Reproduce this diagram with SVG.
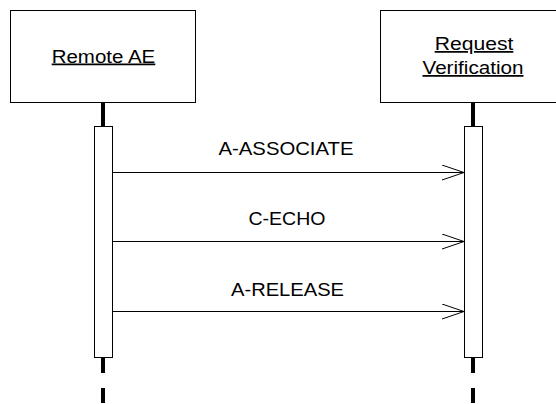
<svg xmlns="http://www.w3.org/2000/svg" width="556" height="404" viewBox="0 0 556 404">
<style>
.box{fill:#fff;stroke:#000;stroke-width:1}
.bar{fill:#fff;stroke:#000;stroke-width:1}
.life{stroke:#000;stroke-width:4;fill:none}
.dash{stroke:#000;stroke-width:4;fill:none;stroke-dasharray:15 15}
.msg{stroke:#000;stroke-width:1;fill:none}
.lbl{font-family:"Liberation Sans",Arial,sans-serif;font-size:17.5px;fill:#000;text-anchor:middle}
.u{text-decoration:underline}
</style>
<defs>
<marker id="open" markerWidth="24" markerHeight="18" refX="22" refY="8" orient="auto" markerUnits="userSpaceOnUse">
<polyline points="0,0.5 22,8 0,15.5" fill="none" stroke="#000" stroke-width="1"/>
</marker>
</defs>
<rect width="556" height="404" fill="#fff"/>
<g id="remote-ae">
<rect class="box" x="10.5" y="10.5" width="185" height="92"/>
<text class="lbl u" x="103.5" y="62.5" textLength="103.6" lengthAdjust="spacingAndGlyphs">Remote AE</text>
<line class="life" x1="103" y1="103" x2="103" y2="126"/>
<line class="dash" x1="103" y1="358" x2="103" y2="404"/>
<rect class="bar" x="94.5" y="126.5" width="18" height="231"/>
</g>
<g id="request-verification">
<rect class="box" x="380.5" y="10.5" width="185" height="92"/>
<text class="lbl u" x="474" y="50" textLength="78.7" lengthAdjust="spacingAndGlyphs">Request</text>
<text class="lbl u" x="473" y="74" textLength="101" lengthAdjust="spacingAndGlyphs">Verification</text>
<line class="life" x1="473" y1="103" x2="473" y2="126"/>
<line class="dash" x1="473" y1="358" x2="473" y2="404"/>
<rect class="bar" x="464.5" y="126.5" width="18" height="231"/>
</g>
<g id="connectors">
<line class="msg" x1="112.5" y1="172.5" x2="464" y2="172.5" marker-end="url(#open)"/>
<text class="lbl" x="286" y="155" textLength="135" lengthAdjust="spacingAndGlyphs">A-ASSOCIATE</text>
<line class="msg" x1="112.5" y1="241.5" x2="464" y2="241.5" marker-end="url(#open)"/>
<text class="lbl" x="287" y="225" textLength="77" lengthAdjust="spacingAndGlyphs">C-ECHO</text>
<line class="msg" x1="112.5" y1="311.5" x2="464" y2="311.5" marker-end="url(#open)"/>
<text class="lbl" x="287.5" y="295.5" textLength="113" lengthAdjust="spacingAndGlyphs">A-RELEASE</text>
</g>
</svg>
